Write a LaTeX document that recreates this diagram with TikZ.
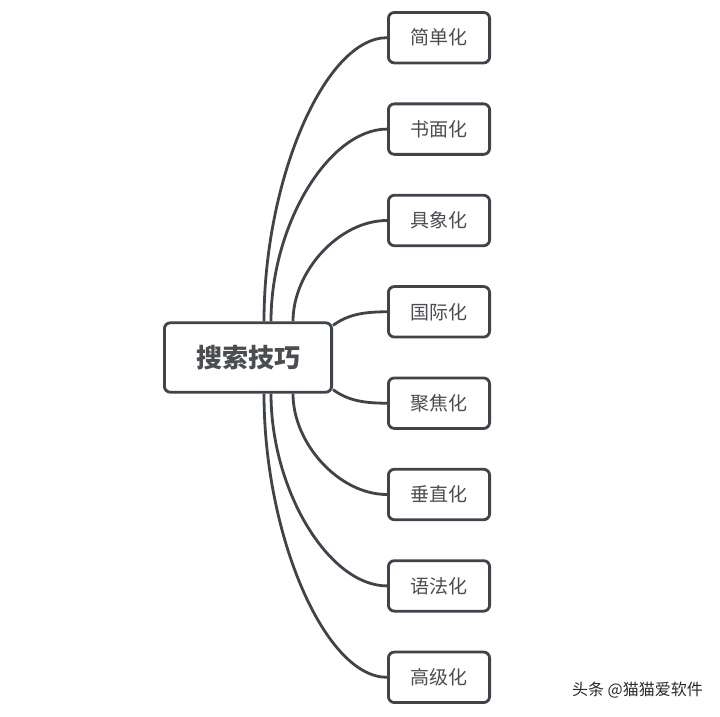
\documentclass[tikz,border=0pt]{standalone}
\usepackage{fontspec}
\newfontfamily\cjk{Noto Sans CJK SC}
\usetikzlibrary{backgrounds}
\definecolor{ln}{HTML}{3F444A}
\definecolor{tx}{HTML}{4A4D52}
\definecolor{wm}{HTML}{2A2A2A}
\begin{document}
\begin{tikzpicture}[x=1pt,y=-1pt,
  box/.style={draw=ln, line width=2.8pt, rounded corners=6pt, fill=white, inner sep=0pt,
    minimum width=101.2pt, minimum height=50.5pt, text=tx,
    font=\cjk\fontsize{19}{19}\selectfont},
  root/.style={box, minimum width=167.2pt, minimum height=69.5pt,
    font=\cjk\bfseries\fontsize{26}{26}\selectfont},
  link/.style={draw=ln, line width=2.8pt}]
\useasboundingbox (0,0) rectangle (720,717);

\node[root] (r) at (248,357.5) {搜索技巧};
\node[box] (c1) at (439,37.7)  {简单化};
\node[box] (c2) at (439,129.1) {书面化};
\node[box] (c3) at (439,220.5) {具象化};
\node[box] (c4) at (439,311.8) {国际化};
\node[box] (c5) at (439,403.2) {聚焦化};
\node[box] (c6) at (439,494.5) {垂直化};
\node[box] (c7) at (439,585.9) {语法化};
\node[box] (c8) at (439,677.3) {高级化};

\begin{scope}[on background layer]
\fill[white] (0,0) rectangle (720,717);
\draw[link] ([xshift=16pt]r.north) .. controls +(0,-142) and +(-62,0) .. (c1.west);
\draw[link] ([xshift=23pt]r.north) .. controls +(0,-97) and +(-58,0) .. (c2.west);
\draw[link] ([xshift=45pt]r.north) .. controls +(0,-50) and +(-48,0) .. (c3.west);
\draw[link] ([yshift=-4pt]r.north east) .. controls +(14,-10) and +(-26,0) .. (c4.west);
\draw[link] ([yshift=4pt]r.south east) .. controls +(14,10) and +(-26,0) .. (c5.west);
\draw[link] ([xshift=45pt]r.south) .. controls +(0,50) and +(-48,0) .. (c6.west);
\draw[link] ([xshift=23pt]r.south) .. controls +(0,97) and +(-58,0) .. (c7.west);
\draw[link] ([xshift=16pt]r.south) .. controls +(0,142) and +(-62,0) .. (c8.west);
\end{scope}

\node[anchor=east, inner sep=0pt, text=wm, font=\cjk\fontsize{16}{16}\selectfont] (wmk) at (703,690) {头条 @猫猫爱软件};
\end{tikzpicture}
\end{document}
